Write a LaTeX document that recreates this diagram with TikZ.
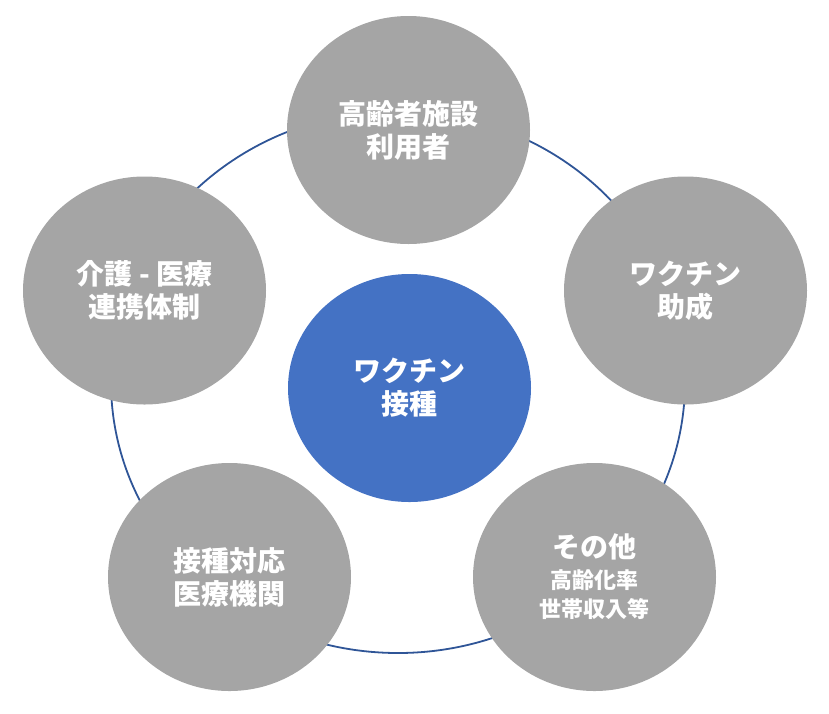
\documentclass[tikz,border=0pt]{standalone}
\usepackage{fontspec}
\usetikzlibrary{shapes.geometric}
\newfontfamily\jp{Noto Sans CJK JP}
\definecolor{bubblegray}{HTML}{A5A5A5}
\definecolor{hubblue}{HTML}{4472C4}
\definecolor{ringblue}{HTML}{2F5597}
\tikzset{
  bubble/.style={ellipse, fill=bubblegray, draw=none, minimum width=243pt, minimum height=228pt,
    inner sep=0pt, text=white, align=center, font=\jp\bfseries\fontsize{28}{33}\selectfont},
  hub/.style={bubble, fill=hubblue},
  ringstyle/.style={ellipse, draw=ringblue, line width=1.8pt, minimum width=574pt, minimum height=542pt, inner sep=0pt}
}
\begin{document}
\begin{tikzpicture}[x=1pt,y=-1pt]
\useasboundingbox (0,0) rectangle (829,713);
\node[ringstyle] (ring) at (398,382) {};
\node[bubble] (top) at (408.5,130) {高齢者施設\\利用者};
\node[bubble] (right) at (685.5,290.5) {ワクチン\\助成};
\node[bubble] (br) at (594.5,577) {その他\\[-2pt]{\fontsize{22}{26}\selectfont 高齢化率}\\[-4pt]{\fontsize{22}{26}\selectfont 世帯収入等}};
\node[bubble] (bl) at (229.5,577) {接種対応\\医療機関};
\node[bubble] (left) at (144.5,290.5) {介護 - 医療\\連携体制};
\node[hub] (center) at (409.5,388) {ワクチン\\接種};
\end{tikzpicture}
\end{document}
